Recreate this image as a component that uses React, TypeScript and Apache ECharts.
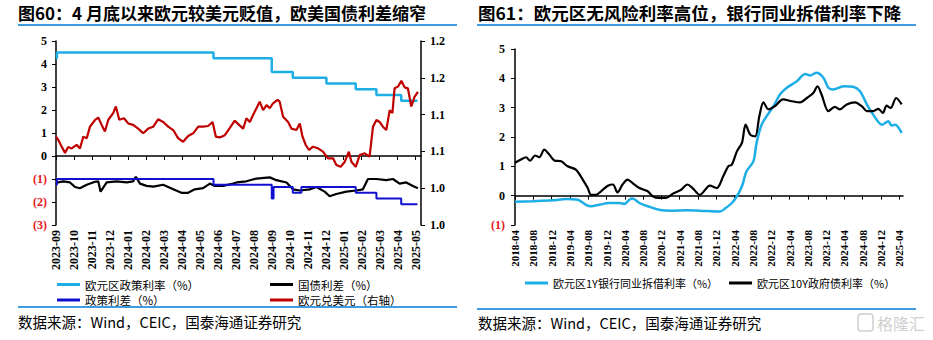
import React, { useEffect, useRef } from "react";
import * as echarts from "echarts";

// ---------- Left panel (x = months since 2023-09) ----------
const leftMonthLabels = [
  "2023-09", "2023-10", "2023-11", "2023-12", "2024-01", "2024-02", "2024-03",
  "2024-04", "2024-05", "2024-06", "2024-07", "2024-08", "2024-09", "2024-10",
  "2024-11", "2024-12", "2025-01", "2025-02", "2025-03", "2025-04", "2025-05",
];

const policyRateT = [0, 0.05, 8.76, 12.0, 13.17, 15.04, 16.67, 17.82, 19.2, 20.1];
const policyRateV = [4.25, 4.5, 4.25, 3.65, 3.4, 3.15, 2.9, 2.65, 2.4, 2.4];

const policySpreadT = [0, 0.05, 8.76, 12.0, 12.1, 13.17, 13.65, 16.67, 17.82, 19.2, 20.1];
const policySpreadV = [-1.25, -1.0, -1.25, -1.85, -1.35, -1.6, -1.35, -1.6, -1.85, -2.1, -2.1];

const bondSpreadT = [
  0.04, 0.41, 0.78, 1.06, 1.33, 1.71, 2.17, 2.35, 2.48, 2.82, 3.37, 3.93, 4.29, 4.44, 4.67,
  5.04, 5.41, 5.96, 6.52, 6.98, 7.35, 7.72, 8.18, 8.56, 8.83, 9.29, 9.85, 10.04, 10.59,
  11.15, 11.89, 12.26, 12.82, 13.18, 13.56, 14.11, 14.48, 14.94, 15.22, 15.59, 16.15,
  16.71, 17.07, 17.35, 17.82, 18.37, 18.74, 19.11, 19.48, 19.85, 20.13,
];
const bondSpreadV = [
  -1.16, -1.1, -1.15, -1.35, -1.4, -1.25, -1.12, -1.1, -1.55, -1.15, -1.1, -1.15, -1.1, -0.9,
  -1.2, -1.3, -1.33, -1.25, -1.45, -1.6, -1.6, -1.45, -1.4, -1.2, -1.3, -1.3, -1.2, -1.15,
  -1.1, -0.98, -0.93, -1.05, -1.15, -1.45, -1.5, -1.45, -1.35, -1.55, -1.75, -1.65, -1.55,
  -1.5, -1.45, -1.0, -1.0, -1.05, -1.0, -1.2, -1.15, -1.3, -1.4,
];

const eurusdT = [
  0, 0.13, 0.32, 0.5, 0.68, 0.87, 1.15, 1.33, 1.52, 1.71,
  1.89, 2.17, 2.35, 2.54, 2.72, 2.91, 3.18, 3.33, 3.52, 3.78,
  4.02, 4.29, 4.57, 4.85, 5.13, 5.41, 5.68, 5.96, 6.24, 6.52,
  6.79, 7.07, 7.35, 7.63, 7.91, 8.18, 8.46, 8.71, 8.89, 9.11,
  9.39, 9.67, 9.94, 10.18, 10.41, 10.59, 10.78, 10.96, 11.15, 11.33,
  11.52, 11.71, 11.89, 12.07, 12.32, 12.44, 12.63, 12.91, 13.09, 13.37,
  13.56, 13.71, 13.89, 14.07, 14.29, 14.57, 14.85, 15.13, 15.41, 15.59,
  15.83, 16.06, 16.29, 16.43, 16.67, 16.89, 17.17, 17.44, 17.63, 17.82,
  18.0, 18.18, 18.37, 18.56, 18.71, 18.83, 19.02, 19.21, 19.39, 19.57,
  19.76, 19.94, 20.13,
];
const eurusdV = [
  1.07, 1.0655, 1.0564, 1.048, 1.056, 1.054, 1.059, 1.054, 1.07, 1.068,
  1.0836, 1.0927, 1.096, 1.086, 1.077, 1.093, 1.102, 1.111, 1.093, 1.095,
  1.088, 1.086, 1.081, 1.0746, 1.081, 1.0836, 1.0936, 1.09, 1.0836, 1.079,
  1.068, 1.063, 1.071, 1.0746, 1.0836, 1.0836, 1.0845, 1.09, 1.07, 1.069,
  1.072, 1.082, 1.0917, 1.086, 1.081, 1.095, 1.09, 1.0995, 1.1086, 1.1176,
  1.106, 1.113, 1.1086, 1.1154, 1.12, 1.1176, 1.097, 1.09, 1.081, 1.079,
  1.088, 1.07, 1.0587, 1.0519, 1.0564, 1.0542, 1.0496, 1.0406, 1.0406, 1.0315,
  1.029, 1.036, 1.0496, 1.036, 1.029, 1.045, 1.0474, 1.0428, 1.0836, 1.0927,
  1.09, 1.0836, 1.079, 1.106, 1.102, 1.1357, 1.138, 1.146, 1.137, 1.1357,
  1.111, 1.124, 1.131,
];

// ---------- Right panel (x = months since 2018-04) ----------
const rightMonthLabels = [
  "2018-04", "2018-08", "2018-12", "2019-04", "2019-08", "2019-12", "2020-04", "2020-08",
  "2020-12", "2021-04", "2021-08", "2021-12", "2022-04", "2022-08", "2022-12", "2023-04",
  "2023-08", "2023-12", "2024-04", "2024-08", "2024-12", "2025-04",
];

const euriborT = [
  0, 3.87, 8.24, 11.15, 13.7, 15.5, 16.6, 18.4, 20.6, 22.8,
  23.9, 25.0, 25.7, 27.2, 29.0, 31.5, 34.5, 37.4, 40.3, 44.8,
  45.9, 47.4, 48.5, 49.6, 50.6, 52.1, 52.8, 53.9, 55.0, 56.5,
  57.9, 59.4, 61.6, 63.4, 64.5, 65.9, 67.4, 68.5, 69.6, 71.8,
  73.9, 75.4, 76.9, 78.3, 80.2, 81.6, 82.3, 83.1, 84.5,
];
const euriborV = [
  -0.21, -0.19, -0.16, -0.11, -0.14, -0.31, -0.36, -0.31, -0.25, -0.25,
  -0.28, -0.14, -0.1, -0.25, -0.36, -0.48, -0.51, -0.5, -0.51, -0.54,
  -0.44, -0.25, -0.02, 0.32, 0.83, 1.17, 1.8, 2.42, 2.71, 3.05,
  3.45, 3.68, 3.9, 4.15, 4.1, 4.19, 4.02, 3.68, 3.62, 3.73,
  3.71, 3.56, 3.11, 2.76, 2.42, 2.54, 2.39, 2.42, 2.14,
];

const govt10yT = [
  0, 1.3, 2.4, 3.3, 4.4, 5.3, 6.4, 7.5, 8.6, 10.1,
  11.5, 13.3, 14.8, 15.9, 16.6, 17.7, 18.8, 20.3, 21.4, 22.4,
  23.5, 24.6, 25.7, 27.2, 29.0, 30.1, 31.5, 33.0, 34.5, 36.3,
  37.7, 38.8, 40.4, 42.6, 44.1, 45.5, 46.6, 47.4, 48.5, 49.6,
  50.4, 51.4, 52.5, 53.4, 54.3, 55.4, 56.8, 58.6, 60.5, 62.3,
  63.8, 65.2, 66.1, 67.0, 68.5, 69.9, 71.0, 72.5, 74.3, 75.8,
  76.9, 78.3, 79.4, 80.4, 81.2, 82.1, 83.3, 84.5,
];
const govt10yV = [
  1.12, 1.23, 1.31, 1.19, 1.37, 1.31, 1.57, 1.4, 1.2, 1.17,
  1.0, 0.89, 0.55, 0.26, 0.03, 0.03, 0.15, 0.34, 0.38, 0.11,
  0.38, 0.55, 0.43, 0.26, 0.15, -0.02, -0.08, -0.08, 0.07, 0.2,
  0.38, 0.26, 0.03, 0.34, 0.26, 0.66, 1.0, 1.06, 1.51, 1.8,
  2.42, 2.08, 2.02, 2.71, 3.18, 2.94, 3.05, 3.28, 3.22, 3.18,
  3.33, 3.5, 3.73, 3.45, 2.88, 3.03, 2.94, 3.11, 3.18, 3.05,
  2.88, 2.88, 2.96, 2.82, 3.07, 2.99, 3.33, 3.11,
];

const LIGHT_BLUE = "#1DAEE6";
const RED = "#C00000";
const BLUE = "#1010D0";
const BLACK = "#000000";
const RULE = "#3F9CE0";
const SERIF = "'Liberation Serif', 'Times New Roman', serif";
const CJK = "'Noto Sans CJK SC', sans-serif";

const zip = (t: number[], v: number[]) => t.map((x, i) => [x, v[i]]);

const leftTicks = leftMonthLabels.map((_, i) => i);
const rightTicks = rightMonthLabels.map((_, i) => i * 4);

const negColor = (v: any) => (parseFloat(v) < 0 ? "#E8141B" : "#000");
const negFmt = (v: number) => (v < 0 ? `(${Math.abs(v)})` : `${v}`);

export default function App() {
  const ref = useRef<HTMLDivElement>(null);

  useEffect(() => {
    if (!ref.current) return;
    const chart = echarts.init(ref.current, undefined, { renderer: "svg" });

    const yLabelBase = { fontFamily: SERIF, fontWeight: "bold" as const, fontSize: 12 };

    const legendBase = {
      selectedMode: false,
      orient: "horizontal" as const,
      itemWidth: 23,
      itemHeight: 3,
      itemGap: 10,
      icon: "rect",
      textStyle: { fontFamily: CJK, fontSize: 11.5, lineHeight: 12, color: "#000", padding: 0 },
      padding: 0,
    };

    const option: any = {
      animation: false,
      backgroundColor: "#fff",
      grid: [
        { left: 56, top: 41, width: 365, height: 184 },
        { left: 515, top: 49, width: 388, height: 176 },
      ],
      xAxis: [
        {
          gridIndex: 0, type: "value", min: 0, max: 20.3, interval: 1,
          axisLine: { show: true, onZero: true, lineStyle: { color: "#000", width: 1.5 } },
          axisTick: { show: true, length: 4, customValues: leftTicks, lineStyle: { color: "#000", width: 1 } },
          axisLabel: { show: false },
          splitLine: { show: false },
        },
        {
          gridIndex: 0, type: "value", position: "bottom", min: 0, max: 20.3, interval: 1,
          axisLine: { show: false, onZero: false },
          axisTick: { show: false },
          axisLabel: {
            show: true, rotate: 90, margin: 5, customValues: leftTicks,
            formatter: (v: number) => leftMonthLabels[Math.round(v)] ?? "",
            fontFamily: SERIF, fontWeight: "bold", fontSize: 12, color: "#000",
          },
          splitLine: { show: false },
        },
        {
          gridIndex: 1, type: "value", min: 0, max: 84.8, interval: 4,
          axisLine: { show: true, onZero: true, lineStyle: { color: "#000", width: 1.5 } },
          axisTick: { show: true, length: 4, customValues: rightTicks, lineStyle: { color: "#000", width: 1 } },
          axisLabel: { show: false },
          splitLine: { show: false },
        },
        {
          gridIndex: 1, type: "value", position: "bottom", min: 0, max: 84.8, interval: 4,
          axisLine: { show: false, onZero: false },
          axisTick: { show: false },
          axisLabel: {
            show: true, rotate: 90, margin: 5, customValues: rightTicks,
            formatter: (v: number) => rightMonthLabels[Math.round(v / 4)] ?? "",
            fontFamily: SERIF, fontWeight: "bold", fontSize: 11, color: "#000",
          },
          splitLine: { show: false },
        },
      ],
      yAxis: [
        {
          gridIndex: 0, type: "value", position: "left", min: -3, max: 5, interval: 1,
          axisLine: { show: true, onZero: false, lineStyle: { color: "#000", width: 1.5 } },
          axisTick: { show: true, length: 4, lineStyle: { color: "#000" } },
          axisLabel: { ...yLabelBase, margin: 9, formatter: negFmt, color: negColor },
          splitLine: { show: false },
        },
        {
          gridIndex: 0, type: "value", position: "right", min: 0.95, max: 1.2, interval: 0.05,
          axisLine: { show: true, onZero: false, lineStyle: { color: "#000", width: 1.5 } },
          axisTick: { show: true, length: 4, lineStyle: { color: "#000" } },
          axisLabel: {
            ...yLabelBase, margin: 9, color: "#000",
            formatter: (v: number) => (Math.round(v * 10 + 1e-6) / 10).toFixed(1),
          },
          splitLine: { show: false },
        },
        {
          gridIndex: 1, type: "value", position: "left", min: -1, max: 5, interval: 1,
          axisLine: { show: true, onZero: false, lineStyle: { color: "#000", width: 1.5 } },
          axisTick: { show: true, length: 4, lineStyle: { color: "#000" } },
          axisLabel: { ...yLabelBase, margin: 10, formatter: negFmt, color: negColor },
          splitLine: { show: false },
        },
      ],
      legend: [
        { ...legendBase, left: 57, top: 278.5, data: ["欧元区政策利率（%）"] },
        { ...legendBase, left: 270, top: 278.5, data: ["国债利差（%）"] },
        { ...legendBase, left: 57, top: 294, data: ["政策利差（%）"] },
        { ...legendBase, left: 270, top: 294, data: ["欧元兑美元（右轴）"] },
        { ...legendBase, left: 525, top: 277, textStyle: { ...legendBase.textStyle, fontSize: 11 }, data: ["欧元区1Y银行同业拆借利率（%）"] },
        { ...legendBase, left: 729, top: 277, textStyle: { ...legendBase.textStyle, fontSize: 11 }, data: ["欧元区10Y政府债利率（%）"] },
      ],
      series: [
        {
          name: "欧元区政策利率（%）", type: "line", xAxisIndex: 0, yAxisIndex: 0,
          data: zip(policyRateT, policyRateV), step: "end", showSymbol: false,
          lineStyle: { color: LIGHT_BLUE, width: 2.5 }, itemStyle: { color: LIGHT_BLUE },
        },
        {
          name: "国债利差（%）", type: "line", xAxisIndex: 0, yAxisIndex: 0,
          data: zip(bondSpreadT, bondSpreadV), showSymbol: false,
          lineStyle: { color: BLACK, width: 2.2 }, itemStyle: { color: BLACK },
        },
        {
          name: "政策利差（%）", type: "line", xAxisIndex: 0, yAxisIndex: 0,
          data: zip(policySpreadT, policySpreadV), step: "end", showSymbol: false,
          lineStyle: { color: BLUE, width: 2 }, itemStyle: { color: BLUE },
        },
        {
          name: "欧元兑美元（右轴）", type: "line", xAxisIndex: 0, yAxisIndex: 1,
          data: zip(eurusdT, eurusdV), showSymbol: false,
          lineStyle: { color: RED, width: 2.2 }, itemStyle: { color: RED },
        },
        {
          name: "欧元区1Y银行同业拆借利率（%）", type: "line", xAxisIndex: 2, yAxisIndex: 2,
          data: zip(euriborT, euriborV), showSymbol: false, smooth: 0.3,
          lineStyle: { color: LIGHT_BLUE, width: 2.5 }, itemStyle: { color: LIGHT_BLUE },
        },
        {
          name: "欧元区10Y政府债利率（%）", type: "line", xAxisIndex: 2, yAxisIndex: 2,
          data: zip(govt10yT, govt10yV), showSymbol: false, smooth: 0.3,
          lineStyle: { color: BLACK, width: 2.2 }, itemStyle: { color: BLACK },
        },
      ],
      graphic: [
        {
          type: "text", x: 18, y: 12,
          style: { text: "图60：4 月底以来欧元较美元贬值，欧美国债利差缩窄", fontFamily: CJK, fontWeight: "bold", fontSize: 17, fill: "#000", verticalAlign: "middle" },
        },
        { type: "line", shape: { x1: 18, y1: 25, x2: 457, y2: 25 }, style: { stroke: RULE, lineWidth: 2 } },
        { type: "line", shape: { x1: 18, y1: 307, x2: 457, y2: 307 }, style: { stroke: RULE, lineWidth: 2 } },
        {
          type: "text", x: 18, y: 321,
          style: { text: "数据来源：Wind，CEIC，国泰海通证券研究", fontFamily: CJK, fontSize: 14.5, fill: "#000", verticalAlign: "middle" },
        },
        {
          type: "text", x: 478, y: 12,
          style: { text: "图61：欧元区无风险利率高位，银行同业拆借利率下降", fontFamily: CJK, fontWeight: "bold", fontSize: 17.5, fill: "#000", verticalAlign: "middle" },
        },
        { type: "line", shape: { x1: 477, y1: 25, x2: 916, y2: 25 }, style: { stroke: RULE, lineWidth: 2 } },
        { type: "line", shape: { x1: 477, y1: 309, x2: 916, y2: 309 }, style: { stroke: RULE, lineWidth: 2 } },
        {
          type: "text", x: 478, y: 322,
          style: { text: "数据来源：Wind，CEIC，国泰海通证券研究", fontFamily: CJK, fontSize: 14.5, fill: "#000", verticalAlign: "middle" },
        },
        {
          type: "rect", shape: { x: 858, y: 314, width: 15, height: 17, r: 3 },
          style: { fill: "none", stroke: "#cfcfcf", lineWidth: 1.5 },
        },
        {
          type: "text", x: 877, y: 323,
          style: { text: "格隆汇", fontFamily: CJK, fontSize: 16, fill: "#d0d0d0", verticalAlign: "middle" },
        },
      ],
    };

    chart.setOption(option);
    return () => chart.dispose();
  }, []);

  return (
    <div
      ref={ref}
      style={{ position: "absolute", left: 0, top: 0, width: 933, height: 340, background: "#fff" }}
    />
  );
}
